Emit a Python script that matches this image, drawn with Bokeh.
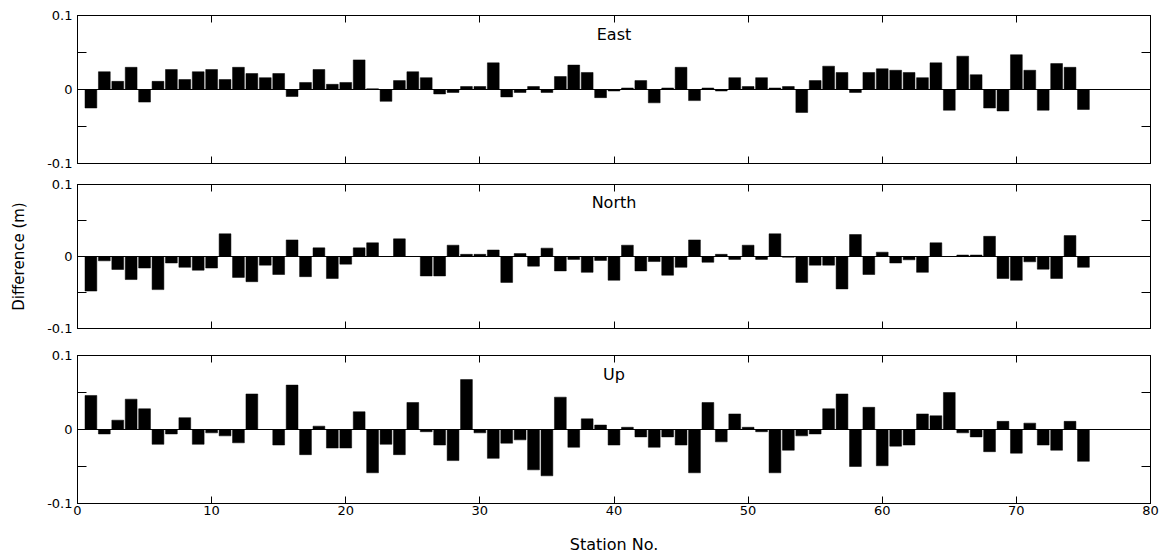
from bokeh.plotting import figure
from bokeh.layouts import column
from bokeh.models import (FixedTicker, CustomJSTickFormatter, LinearAxis, Span,
                          Label, Range1d, ColumnDataSource)
from bokeh.embed import file_html
from bokeh.resources import INLINE

stations = list(range(1, 76))
east = [-0.025, 0.024, 0.011, 0.030, -0.017, 0.011, 0.027, 0.0135, 0.024, 0.027,
        0.0135, 0.030, 0.0216, 0.016, 0.0216, -0.0095, 0.0095, 0.027, 0.007, 0.0095,
        0.040, 0.001, -0.016, 0.012, 0.024, 0.016, -0.006, -0.004, 0.004, 0.004,
        0.036, -0.010, -0.004, 0.004, -0.004, 0.0175, 0.033, 0.023, -0.011, -0.002,
        0.002, 0.012, -0.018, 0.002, 0.030, -0.015, 0.002, -0.002, 0.016, 0.004,
        0.016, 0.002, 0.004, -0.031, 0.012, 0.0315, 0.023, -0.004, 0.023, 0.028,
        0.026, 0.023, 0.016, 0.036, -0.028, 0.045, 0.020, -0.025, -0.029, 0.047,
        0.026, -0.028, 0.035, 0.030, -0.027]
north = [-0.048, -0.006, -0.018, -0.032, -0.016, -0.046, -0.009, -0.015, -0.019, -0.016,
         0.0315, -0.029, -0.035, -0.012, -0.025, 0.023, -0.028, 0.012, -0.0305, -0.0106,
         0.012, 0.019, 0.0, 0.0245, 0.0, -0.027, -0.027, 0.0157, 0.003, 0.003,
         0.009, -0.036, 0.004, -0.0134, 0.0116, -0.020, -0.004, -0.022, -0.0055, -0.033,
         0.0157, -0.020, -0.007, -0.026, -0.015, 0.023, -0.008, 0.003, -0.004, 0.0157,
         -0.004, 0.0315, -0.001, -0.036, -0.012, -0.012, -0.045, 0.0305, -0.025, 0.006,
         -0.009, -0.0046, -0.022, 0.019, 0.0, 0.002, 0.002, 0.028, -0.0305, -0.033,
         -0.0074, -0.0176, -0.0305, 0.029, -0.015]
up = [0.046, -0.006, 0.0126, 0.041, 0.028, -0.020, -0.006, 0.016, -0.020, -0.0045,
      -0.0086, -0.018, 0.048, 0.0, -0.021, 0.060, -0.034, 0.0045, -0.025, -0.025,
      0.024, -0.0585, -0.020, -0.034, 0.0365, -0.003, -0.021, -0.042, 0.0675, -0.0045,
      -0.039, -0.0185, -0.014, -0.0545, -0.0626, 0.0437, -0.024, 0.0144, 0.006, -0.021,
      0.003, -0.010, -0.024, -0.010, -0.021, -0.0585, 0.0365, -0.0167, 0.021, 0.003,
      -0.003, -0.0585, -0.028, -0.0086, -0.006, 0.028, 0.048, -0.050, 0.030, -0.049,
      -0.0225, -0.021, 0.021, 0.0185, 0.050, -0.0045, -0.010, -0.030, 0.011, -0.032,
      0.0086, -0.021, -0.028, 0.011, -0.043]

titles = ["East", "North", "Up"]
x_ticks = [0, 10, 20, 30, 40, 50, 60, 70, 80]
y_ticks = [-0.1, -0.05, 0, 0.05, 0.1]

FONT = "DejaVu Sans"
y_fmt_code = """
if (Math.abs(tick) < 1e-9) { return "0"; }
if (Math.abs(Math.abs(tick) - 0.1) < 1e-9) { return tick.toFixed(1); }
return "";
"""


def style_axis(ax, is_x, show_labels):
    ax.axis_line_color = "black"
    ax.major_tick_line_color = "black"
    ax.minor_tick_line_color = None
    ax.major_tick_out = 0
    ax.major_tick_in = 7 if is_x else 9
    ax.major_label_text_font = FONT
    ax.major_label_text_color = "black"
    ax.major_label_text_font_size = "13px"
    if is_x:
        ax.ticker = FixedTicker(ticks=x_ticks)
    else:
        ax.ticker = FixedTicker(ticks=y_ticks)
    if show_labels:
        if is_x:
            ax.major_label_standoff = 2
        else:
            ax.formatter = CustomJSTickFormatter(code=y_fmt_code)
            ax.major_label_standoff = 5
    else:
        ax.formatter = CustomJSTickFormatter(code="return '';")
        ax.major_label_text_font_size = "0px"
        ax.major_label_standoff = 0


def make_panel(values, title, frame_h, b_top, b_bottom, bottom_labels, ylabel):
    p = figure(width=1163, height=b_top + frame_h + b_bottom,
               frame_width=1073, frame_height=frame_h,
               x_range=Range1d(0, 80), y_range=Range1d(-0.1, 0.1),
               output_backend="svg", toolbar_location=None,
               min_border_left=77, min_border_right=13,
               min_border_top=b_top, min_border_bottom=b_bottom,
               x_axis_location=None, y_axis_location=None)
    p.grid.visible = False
    p.outline_line_color = "black"
    p.outline_line_width = 1
    p.background_fill_color = "white"
    p.border_fill_color = "white"

    bottom = LinearAxis()
    style_axis(bottom, True, bottom_labels)
    top = LinearAxis()
    style_axis(top, True, False)
    left = LinearAxis()
    style_axis(left, False, True)
    right = LinearAxis()
    style_axis(right, False, False)
    if bottom_labels:
        bottom.axis_label = "Station No."
        bottom.axis_label_text_font = FONT
        bottom.axis_label_text_font_style = "normal"
        bottom.axis_label_text_font_size = "16px"
        bottom.axis_label_text_color = "black"
        bottom.axis_label_standoff = 17
    if ylabel:
        left.axis_label = ylabel
        left.axis_label_text_font = FONT
        left.axis_label_text_font_style = "normal"
        left.axis_label_text_font_size = "15px"
        left.axis_label_text_color = "black"
        left.axis_label_standoff = 16
    p.add_layout(bottom, "below")
    p.add_layout(top, "above")
    p.add_layout(left, "left")
    p.add_layout(right, "right")

    src = ColumnDataSource(dict(x=stations, top=values))
    p.vbar(x="x", top="top", bottom=0, width=0.88, source=src,
           fill_color="black", line_color="black", line_width=0.5)
    p.add_layout(Span(location=0, dimension="width", line_color="black",
                      line_width=1))
    p.add_layout(Label(x=40, y=0.075, text=title, text_align="center",
                       text_baseline="middle", text_font=FONT,
                       text_font_size="16px", text_color="black"))
    return p


p1 = make_panel(east, titles[0], 148, 15, 10, False, None)
p2 = make_panel(north, titles[1], 144, 11, 12, False, "Difference (m)")
p3 = make_panel(up, titles[2], 148, 15, 53, True, None)

layout = column(p1, p2, p3, spacing=0)
open("out.html", "w").write(file_html(layout, INLINE))
